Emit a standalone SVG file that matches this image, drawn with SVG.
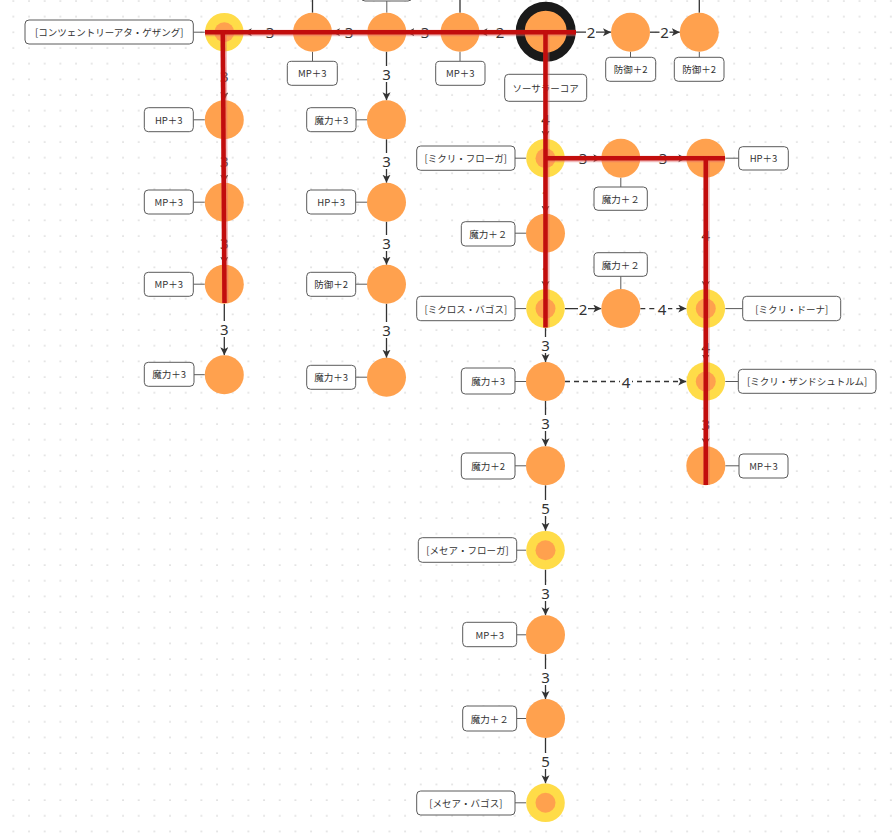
<svg xmlns="http://www.w3.org/2000/svg" width="892" height="839" viewBox="0 0 892 839">
<defs>
<pattern id="grid" x="5.5" y="-7" width="15.67" height="15.67" patternUnits="userSpaceOnUse">
<rect x="7.3" y="7.4" width="1.1" height="1.1" fill="#b4b4b4"/>
</pattern>
<marker id="ar" markerUnits="userSpaceOnUse" markerWidth="9" markerHeight="9" refX="8" refY="4" orient="auto">
<path d="M0,0 L8,4 L0,8 L2,4 z" fill="#333"/>
</marker>
<style>
.n{fill:#ffa14e}
.y{fill:#ffdc48}
.core{fill:#ffa14e;stroke:#1a1a1a;stroke-width:9}
.box{fill:#fff;stroke:#5a5a5a;stroke-width:1}
.ln{stroke:#5a5a5a;stroke-width:1;fill:none}
.up{stroke:#333;stroke-width:1.3;fill:none}
.lt{font-family:"Noto Sans CJK JP","Noto Sans",sans-serif;font-size:9.5px;fill:#333;text-anchor:middle;dominant-baseline:central}
.e{stroke:#333;stroke-width:1.3;fill:none;marker-end:url(#ar)}
.d{stroke-dasharray:5 4}
.lb{fill:#fff}
.el{font-family:"Noto Sans","DejaVu Sans",sans-serif;font-size:15px;fill:#333;text-anchor:middle;dominant-baseline:central}
.hl{stroke:#c20d0d;stroke-width:4.5;fill:none;stroke-linecap:butt}
.hg{stroke:#e06a6a;stroke-opacity:0.45;stroke-width:6.5;fill:none}
</style>
</defs>
<rect width="892" height="839" fill="#fff"/>
<rect width="892" height="839" fill="url(#grid)"/>

<g id="connectors">
<line class="e" x1="515.7" y1="32.2" x2="479.5" y2="32.2"/>
<line class="e" x1="440.5" y1="32.2" x2="406.3" y2="32.2"/>
<line class="e" x1="367.3" y1="32.2" x2="332" y2="32.2"/>
<line class="e" x1="293" y1="32.2" x2="243.8" y2="32.2"/>
<line class="e" x1="576" y1="32.2" x2="611" y2="32.2"/>
<line class="e" x1="650" y1="32.2" x2="679.8" y2="32.2"/>
<line class="e" x1="224.3" y1="51.7" x2="224.3" y2="100.3"/>
<line class="e" x1="224.3" y1="139.3" x2="224.3" y2="182.7"/>
<line class="e" x1="224.3" y1="221.7" x2="224.3" y2="264.7"/>
<line class="e" x1="224.3" y1="303.7" x2="224.3" y2="355.2"/>
<line class="e" x1="386.5" y1="51.7" x2="386.5" y2="100.3"/>
<line class="e" x1="386.5" y1="139.3" x2="386.5" y2="182.7"/>
<line class="e" x1="386.5" y1="221.7" x2="386.5" y2="264.7"/>
<line class="e" x1="386.5" y1="303.7" x2="386.5" y2="357.7"/>
<line class="e" x1="545.5" y1="61.7" x2="545.5" y2="138.7"/>
<line class="e" x1="545.5" y1="177.7" x2="545.5" y2="213.7"/>
<line class="e" x1="545.5" y1="252.7" x2="545.5" y2="289.1"/>
<line class="e" x1="545.5" y1="328.1" x2="545.5" y2="362"/>
<line class="e" x1="545.5" y1="401" x2="545.5" y2="446.3"/>
<line class="e" x1="545.5" y1="485.3" x2="545.5" y2="530.7"/>
<line class="e" x1="545.5" y1="569.7" x2="545.5" y2="615.3"/>
<line class="e" x1="545.5" y1="654.3" x2="545.5" y2="699"/>
<line class="e" x1="545.5" y1="738" x2="545.5" y2="783.3"/>
<line class="e" x1="565" y1="158.2" x2="601.3" y2="158.2"/>
<line class="e" x1="640.3" y1="158.2" x2="686.3" y2="158.2"/>
<line class="e" x1="705.8" y1="177.7" x2="705.8" y2="289.1"/>
<line class="e" x1="705.8" y1="328.1" x2="705.8" y2="362"/>
<line class="e" x1="705.8" y1="401" x2="705.8" y2="446.3"/>
<line class="e" x1="565" y1="308.6" x2="601.3" y2="308.6"/>
<line class="e d" x1="640.3" y1="308.6" x2="686.3" y2="308.6"/>
<line class="e d" x1="565" y1="381.5" x2="686.3" y2="381.5"/>

<rect class="lb" x="495" y="24" width="10" height="16"/><text class="el" x="500" y="32">2</text>
<rect class="lb" x="420" y="24" width="10" height="16"/><text class="el" x="425" y="32">3</text>
<rect class="lb" x="344" y="24" width="10" height="16"/><text class="el" x="349" y="32">3</text>
<rect class="lb" x="265" y="24" width="10" height="16"/><text class="el" x="270" y="32">3</text>
<rect class="lb" x="586" y="24" width="10" height="16"/><text class="el" x="591" y="32">2</text>
<rect class="lb" x="659.5" y="24" width="10" height="16"/><text class="el" x="664.5" y="32">2</text>

<rect class="lb" x="219.3" y="68" width="10" height="16"/><text class="el" x="224.3" y="76">3</text>
<rect class="lb" x="219.3" y="153" width="10" height="16"/><text class="el" x="224.3" y="161">3</text>
<rect class="lb" x="219.3" y="235" width="10" height="16"/><text class="el" x="224.3" y="243">3</text>
<rect class="lb" x="219.3" y="321" width="10" height="16"/><text class="el" x="224.3" y="329">3</text>

<rect class="lb" x="381.5" y="66" width="10" height="16"/><text class="el" x="386.5" y="74">3</text>
<rect class="lb" x="381.5" y="153" width="10" height="16"/><text class="el" x="386.5" y="161">3</text>
<rect class="lb" x="381.5" y="235" width="10" height="16"/><text class="el" x="386.5" y="243">3</text>
<rect class="lb" x="381.5" y="322" width="10" height="16"/><text class="el" x="386.5" y="330">3</text>

<rect class="lb" x="540.5" y="111" width="10" height="16"/><text class="el" x="545.5" y="119">4</text>
<text class="el" x="545.5" y="195">1</text>
<text class="el" x="545.5" y="271">1</text>
<rect class="lb" x="540.5" y="337" width="10" height="16"/><text class="el" x="545.5" y="345">3</text>
<rect class="lb" x="540.5" y="415" width="10" height="16"/><text class="el" x="545.5" y="423">3</text>
<rect class="lb" x="540.5" y="500" width="10" height="16"/><text class="el" x="545.5" y="508">5</text>
<rect class="lb" x="540.5" y="585" width="10" height="16"/><text class="el" x="545.5" y="593">3</text>
<rect class="lb" x="540.5" y="669" width="10" height="16"/><text class="el" x="545.5" y="677">3</text>
<rect class="lb" x="540.5" y="753" width="10" height="16"/><text class="el" x="545.5" y="761">5</text>

<rect class="lb" x="578" y="150" width="10" height="16"/><text class="el" x="583" y="158">3</text>
<rect class="lb" x="658" y="150" width="10" height="16"/><text class="el" x="663" y="158">3</text>

<rect class="lb" x="700.8" y="227" width="10" height="16"/><text class="el" x="705.8" y="235">4</text>
<rect class="lb" x="700.8" y="339" width="10" height="16"/><text class="el" x="705.8" y="347">4</text>
<rect class="lb" x="700.8" y="416" width="10" height="16"/><text class="el" x="705.8" y="424">3</text>

<rect class="lb" x="578" y="300.5" width="10" height="16"/><text class="el" x="583" y="308.5">2</text>
<rect class="lb" x="656" y="300.5" width="12" height="16"/><text class="el" x="662" y="308.5">4</text>
<rect class="lb" x="620" y="373.5" width="12" height="16"/><text class="el" x="626" y="381.5">4</text>

<line class="up" x1="312.5" y1="0" x2="312.5" y2="12.7"/>
<line class="up" x1="460" y1="0" x2="460" y2="12.7"/>
<line class="up" x1="699.3" y1="0" x2="699.3" y2="12.7"/>
</g>

<g id="node-concentri">
<line class="ln" x1="193.3" y1="32.2" x2="204.8" y2="32.2"/>
<rect class="box" x="25" y="20" width="168.3" height="24" rx="4"/>
<text class="lt" x="109.2" y="32">[コンツェントリーアタ・ゲザング]</text>
<circle class="y" cx="224.3" cy="32.2" r="19.3"/><circle class="n" cx="224.3" cy="32.2" r="10"/>
</g>
<g id="node-t1">
<line class="ln" x1="312.5" y1="51.7" x2="312.5" y2="61.3"/>
<rect class="box" x="287.3" y="61.3" width="50" height="24" rx="4"/>
<text class="lt" x="312.3" y="73.3">MP＋3</text>
<circle class="n" cx="312.5" cy="32.2" r="19.5"/>
</g>
<g id="node-t2">
<line class="ln" x1="386.8" y1="1" x2="386.8" y2="12.7"/>
<rect class="box" x="361" y="-23" width="51" height="24" rx="4"/>
<circle class="n" cx="386.8" cy="32.2" r="19.5"/>
</g>
<g id="node-t3">
<line class="ln" x1="460" y1="51.7" x2="460" y2="61.3"/>
<rect class="box" x="435.7" y="61.3" width="49.3" height="24" rx="4"/>
<text class="lt" x="460.3" y="73.3">MP＋3</text>
<circle class="n" cx="460" cy="32.2" r="19.5"/>
</g>
<g id="node-core">
<line class="ln" x1="545.7" y1="61.7" x2="545.7" y2="74.3"/>
<rect class="box" x="504.7" y="74.3" width="82" height="27" rx="4"/>
<text class="lt" x="545.7" y="87.8">ソーサラーコア</text>
<circle class="core" cx="545.7" cy="31.7" r="25.5"/>
</g>
<g id="node-t5">
<line class="ln" x1="630.5" y1="51.7" x2="630.5" y2="57.3"/>
<rect class="box" x="605.7" y="57.3" width="50" height="24" rx="4"/>
<text class="lt" x="630.7" y="69.3">防御＋2</text>
<circle class="n" cx="630.5" cy="32.2" r="19.5"/>
</g>
<g id="node-t6">
<line class="ln" x1="699.3" y1="51.7" x2="699.3" y2="57.3"/>
<rect class="box" x="674.3" y="57.3" width="49.7" height="24" rx="4"/>
<text class="lt" x="699.2" y="69.3">防御＋2</text>
<circle class="n" cx="699.3" cy="32.2" r="19.5"/>
</g>

<g id="node-l1">
<line class="ln" x1="193.3" y1="119.8" x2="204.8" y2="119.8"/>
<rect class="box" x="144.3" y="107.7" width="49" height="24" rx="4"/>
<text class="lt" x="168.8" y="119.7">HP＋3</text>
<circle class="n" cx="224.3" cy="119.8" r="19.5"/>
</g>
<g id="node-l2">
<line class="ln" x1="193.3" y1="202.2" x2="204.8" y2="202.2"/>
<rect class="box" x="144.3" y="190" width="49" height="24" rx="4"/>
<text class="lt" x="168.8" y="202">MP＋3</text>
<circle class="n" cx="224.3" cy="202.2" r="19.5"/>
</g>
<g id="node-l3">
<line class="ln" x1="193.3" y1="284.2" x2="204.8" y2="284.2"/>
<rect class="box" x="144.3" y="272.3" width="49" height="24" rx="4"/>
<text class="lt" x="168.8" y="284.3">MP＋3</text>
<circle class="n" cx="224.3" cy="284.2" r="19.5"/>
</g>
<g id="node-l4">
<line class="ln" x1="194" y1="374.7" x2="204.8" y2="374.7"/>
<rect class="box" x="144.3" y="362.3" width="49.7" height="24" rx="4"/>
<text class="lt" x="169.2" y="374.3">魔力＋3</text>
<circle class="n" cx="224.3" cy="374.7" r="19.5"/>
</g>

<g id="node-c1">
<line class="ln" x1="356" y1="119.8" x2="367" y2="119.8"/>
<rect class="box" x="306.7" y="107.7" width="49.3" height="24" rx="4"/>
<text class="lt" x="331.3" y="119.7">魔力＋3</text>
<circle class="n" cx="386.5" cy="119.8" r="19.5"/>
</g>
<g id="node-c2">
<line class="ln" x1="355.7" y1="202.2" x2="367" y2="202.2"/>
<rect class="box" x="306.7" y="190" width="49" height="24" rx="4"/>
<text class="lt" x="331.2" y="202">HP＋3</text>
<circle class="n" cx="386.5" cy="202.2" r="19.5"/>
</g>
<g id="node-c3">
<line class="ln" x1="355.7" y1="284.2" x2="367" y2="284.2"/>
<rect class="box" x="306.7" y="272.3" width="49" height="24" rx="4"/>
<text class="lt" x="331.2" y="284.3">防御＋2</text>
<circle class="n" cx="386.5" cy="284.2" r="19.5"/>
</g>
<g id="node-c4">
<line class="ln" x1="355.7" y1="377.2" x2="367" y2="377.2"/>
<rect class="box" x="306.7" y="365.3" width="49" height="24" rx="4"/>
<text class="lt" x="331.2" y="377.3">魔力＋3</text>
<circle class="n" cx="386.5" cy="377.2" r="19.5"/>
</g>

<g id="node-m1">
<line class="ln" x1="515" y1="158.2" x2="526" y2="158.2"/>
<rect class="box" x="416.7" y="146" width="98.3" height="24.3" rx="4"/>
<text class="lt" x="465.8" y="158.1">[ミクリ・フローガ]</text>
<circle class="y" cx="545.5" cy="158.2" r="19.3"/><circle class="n" cx="545.5" cy="158.2" r="10"/>
</g>
<g id="node-m2">
<line class="ln" x1="515" y1="233.2" x2="526" y2="233.2"/>
<rect class="box" x="461.3" y="221.7" width="53.7" height="24.3" rx="4"/>
<text class="lt" x="488.2" y="233.8">魔力＋２</text>
<circle class="n" cx="545.5" cy="233.2" r="19.5"/>
</g>
<g id="node-m3">
<line class="ln" x1="515" y1="308.6" x2="526" y2="308.6"/>
<rect class="box" x="416.7" y="296.3" width="98.3" height="24.4" rx="4"/>
<text class="lt" x="465.8" y="308.5">[ミクロス・バゴス]</text>
<circle class="y" cx="545.5" cy="308.6" r="19.3"/><circle class="n" cx="545.5" cy="308.6" r="10"/>
</g>
<g id="node-m4">
<line class="ln" x1="515" y1="381.5" x2="526" y2="381.5"/>
<rect class="box" x="461.3" y="368" width="53.7" height="26" rx="4"/>
<text class="lt" x="488.2" y="381">魔力＋3</text>
<circle class="n" cx="545.5" cy="381.5" r="19.5"/>
</g>
<g id="node-m5">
<line class="ln" x1="515" y1="465.8" x2="526" y2="465.8"/>
<rect class="box" x="461.3" y="453" width="53.7" height="26" rx="4"/>
<text class="lt" x="488.2" y="466">魔力＋2</text>
<circle class="n" cx="545.5" cy="465.8" r="19.5"/>
</g>
<g id="node-m6">
<line class="ln" x1="516.7" y1="550.2" x2="526" y2="550.2"/>
<rect class="box" x="418.3" y="537.7" width="98.4" height="24.6" rx="4"/>
<text class="lt" x="467.5" y="550">[メセア・フローガ]</text>
<circle class="y" cx="545.5" cy="550.2" r="19.3"/><circle class="n" cx="545.5" cy="550.2" r="10"/>
</g>
<g id="node-m7">
<line class="ln" x1="516.7" y1="634.8" x2="526" y2="634.8"/>
<rect class="box" x="462.7" y="622.3" width="54" height="24.4" rx="4"/>
<text class="lt" x="489.7" y="634.5">MP＋3</text>
<circle class="n" cx="545.5" cy="634.8" r="19.5"/>
</g>
<g id="node-m8">
<line class="ln" x1="516.7" y1="718.5" x2="526" y2="718.5"/>
<rect class="box" x="462.7" y="706" width="54" height="25" rx="4"/>
<text class="lt" x="489.7" y="718.5">魔力＋２</text>
<circle class="n" cx="545.5" cy="718.5" r="19.5"/>
</g>
<g id="node-m9">
<line class="ln" x1="515" y1="802.8" x2="526" y2="802.8"/>
<rect class="box" x="416.7" y="791" width="98.3" height="24" rx="4"/>
<text class="lt" x="465.8" y="803">[メセア・バゴス]</text>
<circle class="y" cx="545.5" cy="802.8" r="19.3"/><circle class="n" cx="545.5" cy="802.8" r="10"/>
</g>

<g id="node-r1">
<line class="ln" x1="620.8" y1="177.7" x2="620.8" y2="187"/>
<rect class="box" x="594" y="187" width="53.3" height="23.3" rx="4"/>
<text class="lt" x="620.7" y="198.7">魔力＋２</text>
<circle class="n" cx="620.8" cy="158.2" r="19.5"/>
</g>
<g id="node-r2">
<line class="ln" x1="725.3" y1="158.2" x2="738.7" y2="158.2"/>
<rect class="box" x="738.7" y="146.7" width="49.6" height="23.3" rx="4"/>
<text class="lt" x="763.5" y="158.3">HP＋3</text>
<circle class="n" cx="705.8" cy="158.2" r="19.5"/>
</g>
<g id="node-s1">
<line class="ln" x1="620.8" y1="276.3" x2="620.8" y2="289.1"/>
<rect class="box" x="594" y="252.7" width="53.3" height="23.6" rx="4"/>
<text class="lt" x="620.7" y="264.5">魔力＋２</text>
<circle class="n" cx="620.8" cy="308.6" r="19.5"/>
</g>
<g id="node-r3">
<line class="ln" x1="725.3" y1="308.6" x2="742.7" y2="308.6"/>
<rect class="box" x="742.7" y="296.3" width="98" height="24.4" rx="4"/>
<text class="lt" x="791.7" y="308.5">[ミクリ・ドーナ]</text>
<circle class="y" cx="705.8" cy="308.6" r="19.3"/><circle class="n" cx="705.8" cy="308.6" r="10"/>
</g>
<g id="node-r4">
<line class="ln" x1="725.3" y1="381.5" x2="738.3" y2="381.5"/>
<rect class="box" x="738.3" y="369.3" width="137.7" height="24" rx="4"/>
<text class="lt" x="807.2" y="381.3">[ミクリ・ザンドシュトルム]</text>
<circle class="y" cx="705.8" cy="381.5" r="19.3"/><circle class="n" cx="705.8" cy="381.5" r="10"/>
</g>
<g id="node-r5">
<line class="ln" x1="725.3" y1="465.8" x2="739" y2="465.8"/>
<rect class="box" x="739" y="454" width="49" height="24" rx="4"/>
<text class="lt" x="763.5" y="466">MP＋3</text>
<circle class="n" cx="705.8" cy="465.8" r="19.5"/>
</g>

<g id="highlight-path">
<line class="hg" x1="205" y1="33" x2="576" y2="33"/>
<line class="hg" x1="223.5" y1="30" x2="225.2" y2="303"/>
<line class="hg" x1="546.3" y1="30" x2="546.3" y2="327.5"/>
<line class="hg" x1="545.5" y1="159" x2="725" y2="159"/>
<line class="hg" x1="706.5" y1="156" x2="706.5" y2="485"/>
<line class="hl" x1="205" y1="32.3" x2="576" y2="32.3"/>
<line class="hl" x1="222.8" y1="30" x2="224.5" y2="303"/>
<line class="hl" x1="545.5" y1="30" x2="545.5" y2="327.5"/>
<line class="hl" x1="545.5" y1="158.2" x2="725" y2="158.2"/>
<line class="hl" x1="705.8" y1="156" x2="705.8" y2="485"/>
</g>
</svg>
